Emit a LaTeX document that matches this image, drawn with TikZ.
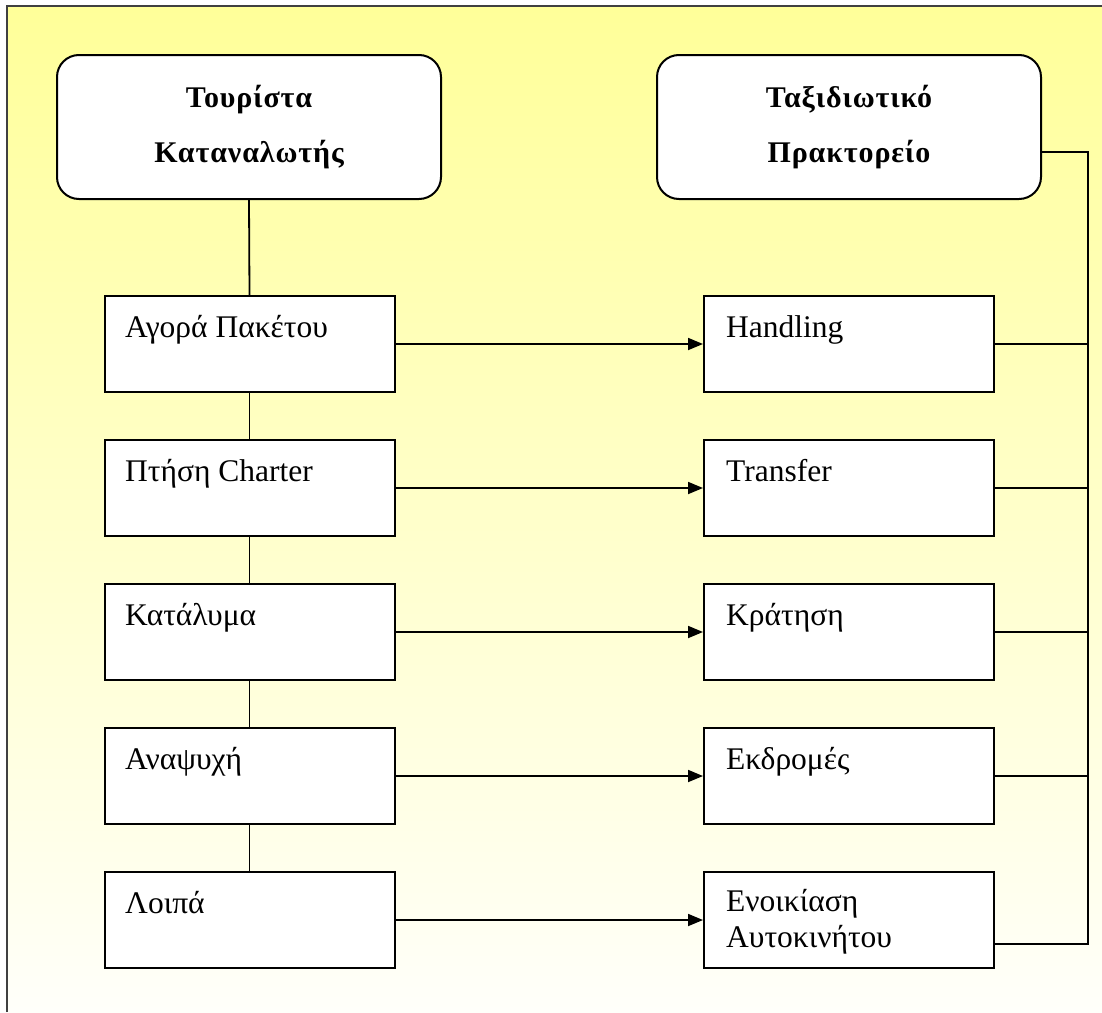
\documentclass[tikz,border=0pt]{standalone}
\usepackage{fontspec}
\setmainfont{Liberation Serif}
\newfontfamily\headfont[LetterSpace=3]{Liberation Serif}
\usetikzlibrary{arrows.meta}
\definecolor{bgtop}{RGB}{255,255,153}
\definecolor{bgbottom}{RGB}{255,255,250}
\definecolor{framegray}{RGB}{64,64,64}
\tikzset{
    headbox/.style={draw,fill=white,rounded corners=22pt,line width=2pt,minimum width=384pt,minimum height=144pt,inner sep=0pt,align=center,font=\fontsize{30}{55}\selectfont\headfont\bfseries},
    itembox/.style={draw,fill=white,line width=2pt,minimum width=290pt,minimum height=96pt,inner sep=0pt},
    itemtext/.style={anchor=base west,inner sep=0pt,align=left,font=\fontsize{31.5}{36}\selectfont},
    link/.style={line width=1.8pt},
    flow/.style={link,-{Triangle[length=15pt,width=12pt]}}
}

\begin{document}
\begin{tikzpicture}[x=1pt,y=-1pt]
        \useasboundingbox (0,0) rectangle (1102,1012);
        \shade[top color=bgtop,bottom color=bgbottom] (8,7) rectangle (1102,1012);
        \draw[framegray,line width=2pt] (7,1012)--(7,6)--(1102,6);
        \node[headbox] (tourist) at (249,127) {Τουρίστα\\Καταναλωτής};
        \node[headbox] (agency) at (849,127) {Ταξιδιωτικό\\Πρακτορείο};
        \coordinate (bus) at (1088,0);
        % last field: extra drop of the baseline for two-line texts
        \foreach \i/\ltext/\rtext/\dy in {1/Αγορά Πακέτου/Handling/0,2/Πτήση Charter/Transfer/0,3/Κατάλυμα/Κράτηση/0,4/Αναψυχή/Εκδρομές/0,5/Λοιπά/{Ενοικίαση\\Αυτοκινήτου}/34}{
            \node[itembox] (L\i) at (249.5,{344+144*(\i-1)}) {};
            \node[itembox] (R\i) at (849,{344+144*(\i-1)}) {};
            \node[itemtext] (L\i t) at (125,{337+144*(\i-1)}) {\ltext};
            \node[itemtext] (R\i t) at (726,{337+144*(\i-1)+\dy}) {\rtext};
            \draw[flow] (L\i.east)--(R\i.west);
        }
        \draw[link] (tourist.south)--(L1.north);
        \foreach \i/\j in {1/2,2/3,3/4,4/5}
            \draw[link] (L\i.south)--(L\j.north);
        \coordinate (R5low) at ([yshift=-24pt]R5.east);
        \draw[link] ([yshift=-25pt]agency.east) -| (bus |- R5low) -- (R5low);
        \foreach \i in {1,2,3,4}
            \draw[link] (R\i.east)--(R\i.east -| bus);
\end{tikzpicture}
\end{document}
